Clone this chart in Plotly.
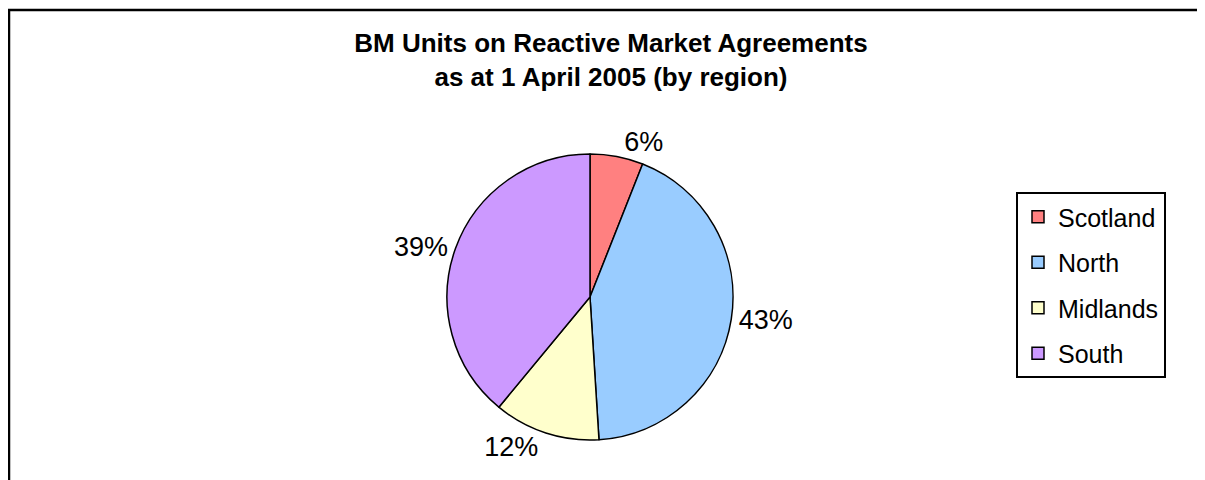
import plotly.graph_objects as go

regions = ["Scotland", "North", "Midlands", "South"]
shares = [6, 43, 12, 39]
colors = ["#FF8080", "#99CCFF", "#FFFFCC", "#CC99FF"]
title_lines = ["BM Units on Reactive Market Agreements", "as at 1 April 2005 (by region)"]

FONT = "Liberation Sans, Arial"
W, H = 1205, 480
cx, cy, d = 582, 289, 286

fig = go.Figure()
fig.add_trace(go.Pie(
    labels=regions,
    values=shares,
    sort=False,
    direction="clockwise",
    rotation=0,
    marker=dict(colors=colors, line=dict(color="black", width=1.5)),
    texttemplate="%{percent:.0%}",
    textposition="outside",
    textfont=dict(family=FONT, size=27, color="black"),
    domain=dict(x=[(cx - d / 2) / W, (cx + d / 2) / W],
                y=[1 - (cy + d / 2) / H, 1 - (cy - d / 2) / H]),
    hoverinfo="label+percent",
    showlegend=False,
))

# legend entries (one group each so the spacing can be widened)
for name, col in zip(regions, colors):
    fig.add_trace(go.Scatter(
        x=[None], y=[None], mode="markers", name=name,
        legendgroup=name,
        marker=dict(symbol="square", size=12, color=col,
                    line=dict(color="black", width=1.5)),
        hoverinfo="skip",
    ))

fig.update_layout(
    width=W, height=H,
    margin=dict(l=0, r=0, t=0, b=0),
    paper_bgcolor="white",
    plot_bgcolor="white",
    font=dict(family=FONT, color="black"),
    xaxis=dict(visible=False),
    yaxis=dict(visible=False),
    title=dict(
        text="<b>" + "<br>".join(title_lines) + "</b>",
        x=603 / W, xanchor="center",
        y=1 - 44 / H, yanchor="top",
        font=dict(family=FONT, size=26, color="black"),
    ),
    legend=dict(
        x=1008 / W, xanchor="left",
        y=1 - 184 / H, yanchor="top",
        bordercolor="black", borderwidth=2,
        bgcolor="white",
        font=dict(family=FONT, size=25, color="black"),
        traceorder="grouped",
        tracegroupgap=10,
    ),
    shapes=[dict(type="rect", xref="paper", yref="paper",
                 x0=1 / W, x1=1.02, y0=-0.02, y1=1 - 2 / H,
                 line=dict(color="black", width=2.5))],
)

fig.write_html("out.html")
